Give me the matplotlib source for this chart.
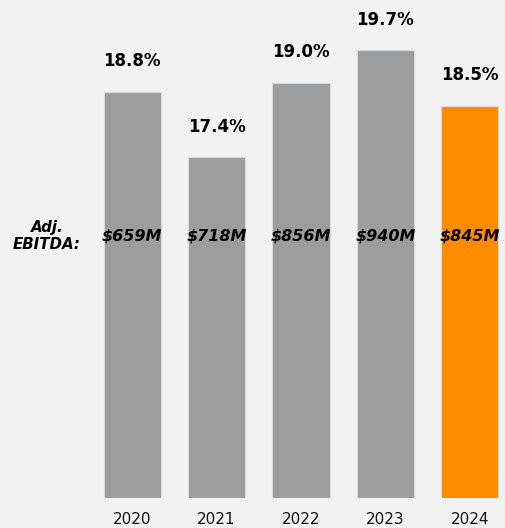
import matplotlib.pyplot as plt
import numpy as np

years = ["2020", "2021", "2022", "2023", "2024"]
margin_pct = [18.8, 17.4, 19.0, 19.7, 18.5]
ebitda_labels = ["$659M", "$718M", "$856M", "$940M", "$845M"]
bar_colors = ["#9c9d9f", "#9c9d9f", "#9c9d9f", "#9c9d9f", "#ff8c00"]

W, H = 506, 528
fig = plt.figure(figsize=(W / 100, H / 100), dpi=100, facecolor="#f2f2f2")
ax = fig.add_axes([90 / W, 30 / H, 416 / W, 498 / H])
ax.set_facecolor("#f2f2f2")

x = np.arange(len(years))
step = 84.4
ax.bar(x, margin_pct, width=0.68, color=bar_colors, edgecolor="#d9d9d9", linewidth=0.8)
ax.set_xlim(-0.5, -0.5 + 416 / step)
ax.set_ylim(10.07, 10.07 + 498 / 46.5)

for xi, pct in zip(x, margin_pct):
    ax.annotate(f"{pct:.1f}%", (xi, pct), xytext=(0, 22), textcoords="offset points",
                ha="center", va="center", fontsize=12, fontweight="bold", color="#000000")

y_mid = 10.07 + (498 - 236) / 46.5
for xi, lab in zip(x, ebitda_labels):
    ax.text(xi, y_mid, lab, ha="center", va="center", fontsize=11.5,
            fontweight="bold", fontstyle="italic", color="#000000")

fig.text(47 / W, 1 - 236 / H, "Adj.\nEBITDA:", ha="center", va="center", fontsize=10.8,
         fontweight="bold", fontstyle="italic", color="#000000", linespacing=1.15)

ax.set_xticks(x)
ax.set_xticklabels(years, fontsize=11, color="#111111")
ax.tick_params(axis="x", length=0, pad=10)
ax.set_yticks([])
for s in ax.spines.values():
    s.set_visible(False)

fig.savefig("out.png", dpi=100, facecolor=fig.get_facecolor())
